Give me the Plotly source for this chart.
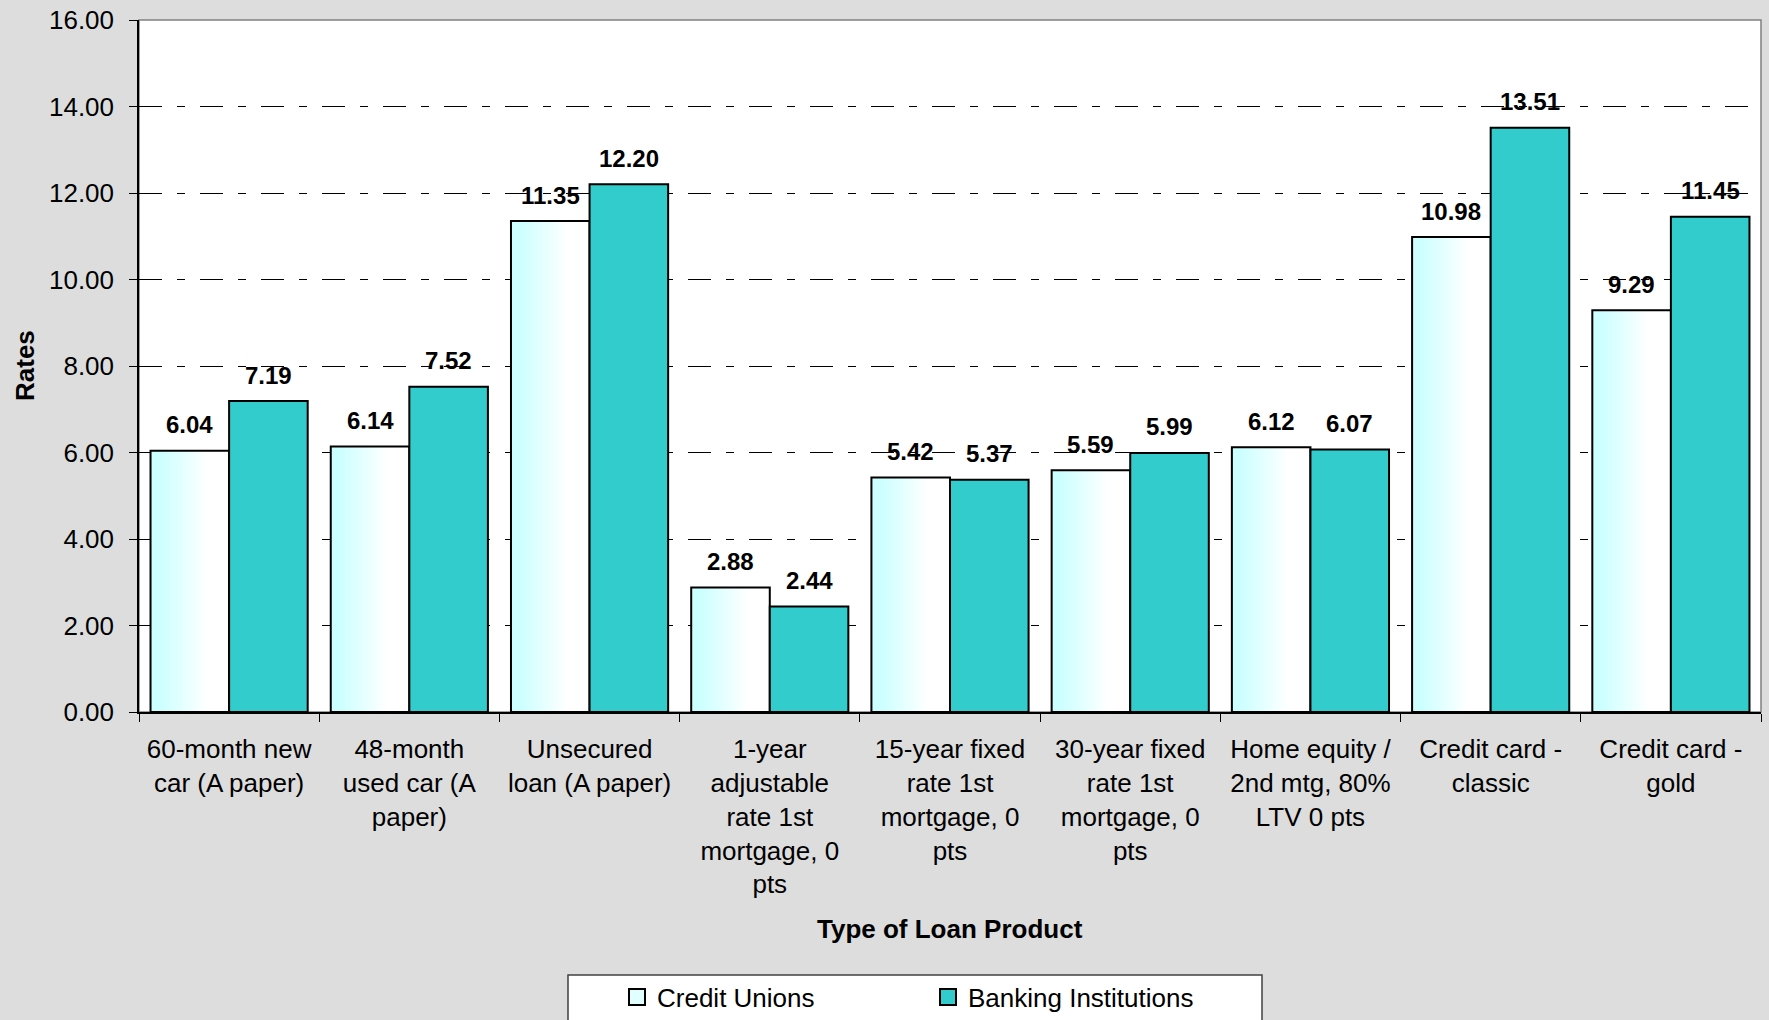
import plotly.graph_objects as go

categories = [
    "60-month new<br>car (A paper)",
    "48-month<br>used car (A<br>paper)",
    "Unsecured<br>loan (A paper)",
    "1-year<br>adjustable<br>rate 1st<br>mortgage, 0<br>pts",
    "15-year fixed<br>rate 1st<br>mortgage, 0<br>pts",
    "30-year fixed<br>rate 1st<br>mortgage, 0<br>pts",
    "Home equity /<br>2nd mtg, 80%<br>LTV 0 pts",
    "Credit card -<br>classic",
    "Credit card -<br>gold",
]
credit_unions = [6.04, 6.14, 11.35, 2.88, 5.42, 5.59, 6.12, 10.98, 9.29]
banking = [7.19, 7.52, 12.20, 2.44, 5.37, 5.99, 6.07, 13.51, 11.45]
y_ticks = [0, 2, 4, 6, 8, 10, 12, 14, 16]

FONT = "Liberation Sans, Arial, sans-serif"
W = 0.436  # bar width in category units

# figure geometry (px)
FIG_W, FIG_H = 1769, 1020
L, R, T, B = 139, 8, 20, 308
PW = FIG_W - L - R
PH = FIG_H - T - B


def px_to_paper_x(px):
    return (px - L) / PW


def px_to_paper_y(py):
    return (FIG_H - B - py) / PH


fig = go.Figure()

# gradient fill for the Credit Unions bars (cyan -> white, left to right)
N = 20
c0 = (204, 255, 255)
step = W / N
for k in range(N):
    t = (k + 0.5) / N
    f = min(max((t - 0.12) / 0.6, 0.0), 1.0)
    col = tuple(round(c0[i] + (255 - c0[i]) * f) for i in range(3))
    off = -W + k * step
    wid = min(step * 1.8, W - k * step)
    fig.add_trace(go.Bar(
        x=categories, y=credit_unions,
        width=wid, offset=off,
        marker=dict(color="rgb(%d,%d,%d)" % col, line=dict(width=0)),
        showlegend=False, hoverinfo="skip",
    ))

# outline of the Credit Unions bars
fig.add_trace(go.Bar(
    x=categories, y=credit_unions, width=W, offset=-W,
    marker=dict(color="rgba(0,0,0,0)", line=dict(color="black", width=2)),
    name="Credit Unions", showlegend=False,
))
fig.add_trace(go.Bar(
    x=categories, y=banking, width=W, offset=0,
    marker=dict(color="#33CCCC", line=dict(color="black", width=2)),
    name="Banking Institutions", showlegend=False,
))

# legend entries (larger square symbols)
fig.add_trace(go.Scatter(
    x=[None], y=[None], mode="markers", name="Credit Unions",
    marker=dict(symbol="square", size=17, color="#E2FFFF",
                line=dict(color="black", width=2)),
))
fig.add_trace(go.Scatter(
    x=[None], y=[None], mode="markers", name="Banking Institutions",
    marker=dict(symbol="square", size=17, color="#33CCCC",
                line=dict(color="black", width=2)),
))

# value labels
annotations = []
for i, v in enumerate(credit_unions):
    annotations.append(dict(x=i - W / 2, y=v, xref="x", yref="y", text="<b>%.2f</b>" % v,
                            showarrow=False, yanchor="middle", yshift=26,
                            font=dict(family=FONT, size=24, color="black")))
for i, v in enumerate(banking):
    annotations.append(dict(x=i + W / 2, y=v, xref="x", yref="y", text="<b>%.2f</b>" % v,
                            showarrow=False, yanchor="middle", yshift=26,
                            font=dict(family=FONT, size=24, color="black")))

# axis titles
annotations.append(dict(x=0.5, y=px_to_paper_y(929), xref="paper", yref="paper",
                        text="<b>Type of Loan Product</b>", showarrow=False,
                        xanchor="center", yanchor="middle",
                        font=dict(family=FONT, size=26, color="black")))
annotations.append(dict(x=px_to_paper_x(25), y=0.5, xref="paper", yref="paper",
                        text="<b>Rates</b>", showarrow=False, textangle=-90,
                        xanchor="center", yanchor="middle",
                        font=dict(family=FONT, size=26, color="black")))

shapes = [
    # plot area frame
    dict(type="rect", xref="paper", yref="paper", x0=0, x1=1, y0=0, y1=1,
         line=dict(color="#808080", width=1.5), layer="below"),
    # legend box
    dict(type="rect", xref="paper", yref="paper",
         x0=px_to_paper_x(568), x1=px_to_paper_x(1262),
         y0=px_to_paper_y(975), y1=px_to_paper_y(1060),
         line=dict(color="#404040", width=1.5), fillcolor="white", layer="above"),
]

fig.update_layout(
    width=FIG_W, height=FIG_H, autosize=False,
    margin=dict(l=L, r=R, t=T, b=B, autoexpand=False),
    paper_bgcolor="#DDDDDD",
    plot_bgcolor="white",
    barmode="overlay",
    font=dict(family=FONT, size=26, color="black"),
    annotations=annotations,
    shapes=shapes,
    showlegend=True,
    legend=dict(
        orientation="h", x=px_to_paper_x(617), y=px_to_paper_y(997),
        xanchor="left", yanchor="middle",
        bgcolor="rgba(0,0,0,0)", borderwidth=0, itemsizing="trace",
        font=dict(family=FONT, size=26, color="black"),
        entrywidth=266, traceorder="normal",
    ),
    xaxis=dict(
        type="category", tickson="boundaries", ticks="outside", ticklen=8,
        tickcolor="black", tickwidth=1, showline=True, linecolor="black",
        linewidth=2, showgrid=False, ticklabelstandoff=13, automargin=False,
        tickfont=dict(family=FONT, size=26, color="black"),
        range=[-0.5, len(categories) - 0.5],
    ),
    yaxis=dict(
        range=[0, 16], tickvals=y_ticks, tickformat=".2f",
        ticks="outside", ticklen=8, tickcolor="black", tickwidth=1,
        showline=True, linecolor="black", linewidth=1.5,
        showgrid=True, gridcolor="black", gridwidth=1,
        griddash="23px,15px,8px,15px", automargin=False,
        ticklabelstandoff=10, zeroline=False,
        tickfont=dict(family=FONT, size=26, color="black"),
    ),
)

fig.write_html("out.html", config={"displayModeBar": False},
               post_script="document.body.style.margin='0';")
